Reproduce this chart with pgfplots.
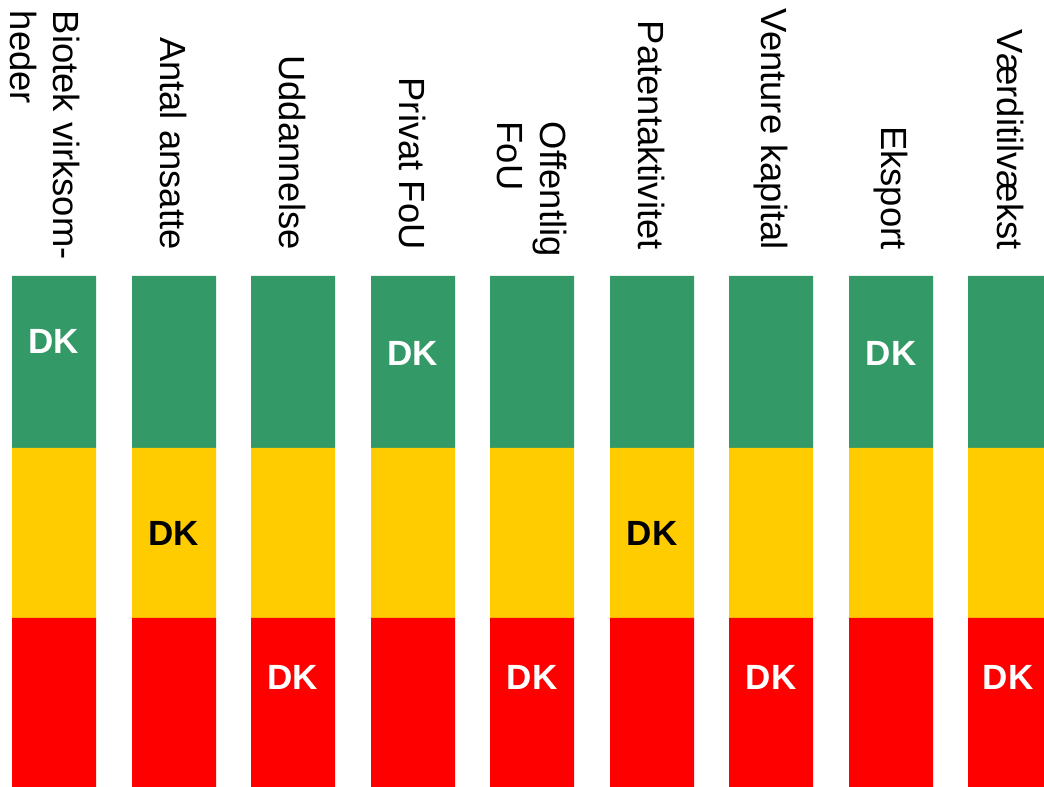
\documentclass[border=0pt]{standalone}
\usepackage{pgfplots}
\pgfplotsset{compat=1.18}
\usepackage{pgfplotstable}
\usepackage{fontspec}
\setmainfont{Liberation Sans}
\definecolor{dkgreen}{RGB}{51,153,102}
\definecolor{dkyellow}{RGB}{255,204,0}
\definecolor{dkred}{RGB}{255,0,0}
\pgfplotstableread{
x red yellow green
54 169 170 172
174 169 170 172
293 169 170 172
413 169 170 172
532 169 170 172
652 169 170 172
771 169 170 172
891 169 170 172
1010 169 170 172
}\data
\pgfplotsset{base/.style={scale only axis, width=522pt, height=393.5pt,
  xmin=0, xmax=1044, ymin=0, ymax=787, hide axis}}
\begin{document}
\begin{tikzpicture}
\begin{axis}[base, ybar stacked, bar width=84, clip mode=individual]
\addplot[fill=dkred, draw=none] table[x=x,y=red]{\data};
\addplot[fill=dkyellow, draw=none] table[x=x,y=yellow]{\data};
\addplot[fill=dkgreen, draw=none] table[x=x,y=green]{\data};
\draw[draw=none] (rel axis cs:0,0) rectangle (rel axis cs:1,1);
\end{axis}
\begin{axis}[base, clip=false]
\draw[draw=none] (rel axis cs:0,0) rectangle (rel axis cs:1,1);
\tikzset{lab/.style={rotate=-90, anchor=east, inner sep=0pt, align=left, font=\fontsize{18.2}{21.5}\selectfont},
  dk/.style={inner sep=0pt, font=\bfseries\fontsize{17.5}{21}\selectfont}}
\node[lab] at (axis cs:45,527) {Biotek virksom-\\heder};
\node[lab] at (axis cs:174,537) {Antal ansatte};
\node[lab] at (axis cs:293,537) {Uddannelse};
\node[lab] at (axis cs:413,537) {Privat FoU};
\node[lab] at (axis cs:532,530) {Offentlig\\FoU};
\node[lab] at (axis cs:652,537) {Patentaktivitet};
\node[lab] at (axis cs:771,537) {Venture kapital};
\node[lab] at (axis cs:891,537) {Eksport};
\node[lab] at (axis cs:1010,537) {Værditilvækst};
\node[dk, white] at (axis cs:54,445.5) {DK};
\node[dk, black] at (axis cs:174,254) {DK};
\node[dk, white] at (axis cs:293,110) {DK};
\node[dk, white] at (axis cs:413,434) {DK};
\node[dk, white] at (axis cs:532,110) {DK};
\node[dk, black] at (axis cs:652,254) {DK};
\node[dk, white] at (axis cs:771,110) {DK};
\node[dk, white] at (axis cs:891,434) {DK};
\node[dk, white] at (axis cs:1008,110) {DK};
\end{axis}
\end{tikzpicture}
\end{document}
